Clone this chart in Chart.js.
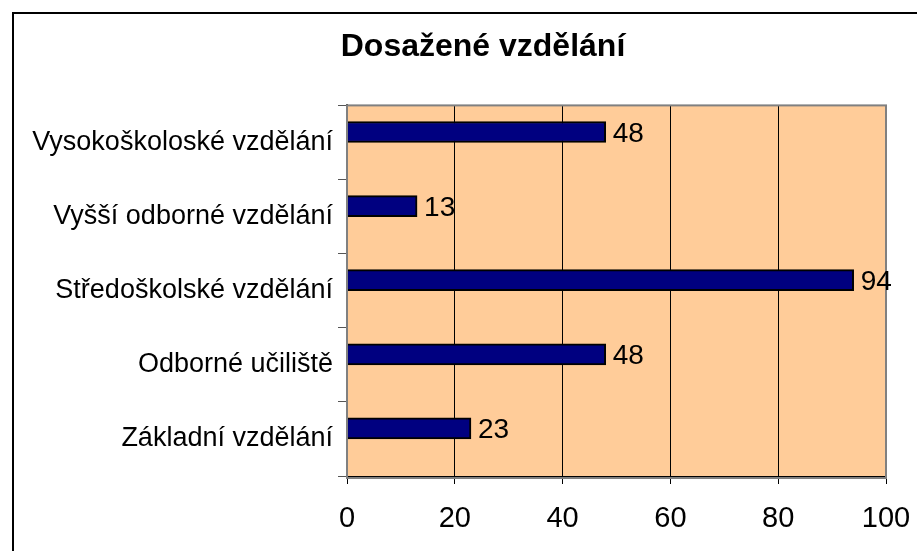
<!DOCTYPE html>
<html>
<head>
<meta charset="utf-8">
<script src="https://cdn.jsdelivr.net/npm/chart.js@4/dist/chart.umd.min.js"></script>
<style>
  body { margin: 0; background: #fff; }
  canvas { display: block; }
</style>
</head>
<body>
<canvas id="myChart" width="917" height="551"></canvas>
<script>
const labels = [
  'Vysokoškoloské vzdělání',
  'Vyšší odborné vzdělání',
  'Středoškolské vzdělání',
  'Odborné učiliště',
  'Základní vzdělání'
];
const values = [48, 13, 94, 48, 23];
const emptySlot = [null, null, null, null, null]; // keeps the bar shifted up in its band, like Excel
const xTicks = [0, 20, 40, 60, 80, 100];
const title = 'Dosažené vzdělání';

const font = '"Liberation Sans", Arial, sans-serif';

// page frame, plot background, plot border and value labels
const framePlugin = {
  id: 'frame',
  afterLayout(chart) {
    // let the long category names run left of the axis box (title stays centred like the original)
    chart.scales.y.left = 0;
  },
  beforeDraw(chart) {
    const ctx = chart.ctx;
    const a = chart.chartArea;
    ctx.save();
    ctx.fillStyle = '#ffffff';
    ctx.fillRect(0, 0, chart.width, chart.height);
    ctx.strokeStyle = '#000';
    ctx.lineWidth = 2;
    ctx.beginPath();
    ctx.moveTo(13, chart.height);
    ctx.lineTo(13, 13);
    ctx.lineTo(chart.width, 13);
    ctx.stroke();
    ctx.fillStyle = '#FFCC99';
    ctx.fillRect(a.left, a.top, a.right - a.left, a.bottom - a.top);
    ctx.restore();
  },
  afterDatasetsDraw(chart) {
    const ctx = chart.ctx;
    const a = chart.chartArea;
    ctx.save();
    ctx.strokeStyle = '#808080';
    ctx.lineWidth = 2;
    ctx.strokeRect(a.left, a.top, a.right - a.left, a.bottom - a.top + 2);
    const meta = chart.getDatasetMeta(0);
    ctx.fillStyle = '#000';
    ctx.font = '28px ' + font;
    ctx.textAlign = 'left';
    ctx.textBaseline = 'middle';
    meta.data.forEach((bar, i) => {
      ctx.fillText(String(values[i]), bar.x + 7, bar.y + 2);
    });
    ctx.restore();
  }
};

const ctx = document.getElementById('myChart').getContext('2d');
const myChart = new Chart(ctx, {
  type: 'bar',
  plugins: [framePlugin],
  data: {
    labels: labels,
    datasets: [{
      data: values,
      backgroundColor: '#000080',
      borderColor: '#000',
      borderWidth: 2,
      barThickness: 21
    }, {
      data: emptySlot,
      backgroundColor: 'rgba(0,0,0,0)',
      borderWidth: 0,
      barThickness: 21
    }]
  },
  options: {
    indexAxis: 'y',
    responsive: false,
    animation: false,
    layout: { padding: { left: 80, right: 31, top: 0, bottom: 0 } },
    scales: {
      x: {
        min: 0,
        max: 100,
        afterBuildTicks: (scale) => { scale.ticks = xTicks.map(v => ({ value: v })); },
        afterFit: (scale) => {
          scale.height = 75;
          scale.paddingLeft = 0;
          scale.paddingRight = 0;
        },
        grid: { color: '#000', lineWidth: 1, tickLength: 8 },
        border: { display: true, color: '#000', width: 1 },
        ticks: { color: '#000', padding: 18, font: { family: font, size: 29 } }
      },
      y: {
        afterFit: (scale) => { scale.width = 267; },
        grid: { drawOnChartArea: false, offset: true, color: '#555', tickLength: 9 },
        border: { display: true, color: '#404040', width: 2 },
        ticks: { color: '#000', padding: 5, font: { family: font, size: 27 } }
      }
    },
    plugins: {
      legend: { display: false },
      tooltip: { enabled: false },
      title: {
        display: true,
        text: title,
        color: '#000',
        font: { family: font, size: 32, weight: 'bold' },
        padding: { top: 28, bottom: 39 }
      }
    }
  }
});
</script>
</body>
</html>
